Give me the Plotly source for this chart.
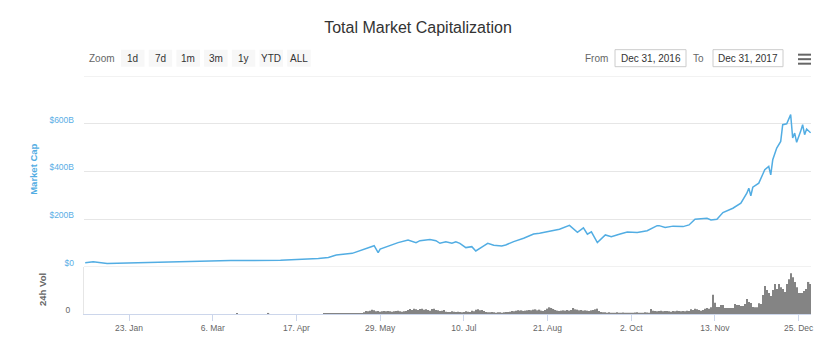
import pandas as pd
import plotly.graph_objects as go

# ---- data -------------------------------------------------------------
TITLE = "Total Market Capitalization"

# total market capitalisation, billions of USD
CAP_DATES = [
    "2017-01-01", "2017-01-05", "2017-01-12", "2017-01-23", "2017-02-18",
    "2017-03-15", "2017-04-09", "2017-04-25", "2017-04-28", "2017-05-03",
    "2017-05-07", "2017-05-15", "2017-05-20", "2017-05-26", "2017-05-28",
    "2017-05-29", "2017-06-07", "2017-06-12", "2017-06-16", "2017-06-18",
    "2017-06-23", "2017-06-26", "2017-06-28", "2017-07-01", "2017-07-04",
    "2017-07-06", "2017-07-08", "2017-07-11", "2017-07-14", "2017-07-16",
    "2017-07-20", "2017-07-22", "2017-07-25", "2017-07-29", "2017-07-31",
    "2017-08-04", "2017-08-09", "2017-08-14", "2017-08-17", "2017-08-22",
    "2017-08-27", "2017-09-01", "2017-09-05", "2017-09-08", "2017-09-10",
    "2017-09-12", "2017-09-15", "2017-09-19", "2017-09-22", "2017-09-26",
    "2017-09-30", "2017-10-05", "2017-10-10", "2017-10-15", "2017-10-16",
    "2017-10-19", "2017-10-23", "2017-10-28", "2017-10-31", "2017-11-03",
    "2017-11-09", "2017-11-11", "2017-11-14", "2017-11-17", "2017-11-22",
    "2017-11-26", "2017-11-29", "2017-11-30", "2017-12-01", "2017-12-02",
    "2017-12-05", "2017-12-08", "2017-12-10", "2017-12-11", "2017-12-12",
    "2017-12-14", "2017-12-16", "2017-12-17", "2017-12-19", "2017-12-21",
    "2017-12-22", "2017-12-23", "2017-12-24", "2017-12-26", "2017-12-27",
    "2017-12-28", "2017-12-29", "2017-12-31",
]
CAP_VALUES = [
    18, 22, 14, 16, 20,
    27, 28, 32, 35, 40,
    50, 57, 71, 89, 60,
    75, 102, 113, 102, 110,
    115, 110, 99, 105, 99,
    105, 99, 81, 85, 67,
    88, 99, 91, 88, 92,
    106, 120, 138, 141, 148,
    158, 174, 145, 164, 137,
    147, 102, 134, 127, 137,
    146, 144, 152, 173, 173,
    165, 171, 169, 176, 200,
    204, 197, 200, 228, 246,
    267, 309, 330, 298, 334,
    351, 407, 421, 386, 449,
    498, 526, 596, 600, 638,
    540, 561, 522, 568, 596,
    554, 578, 562,
]

# 24h volume, billions of USD, one value per day of 2017
VOL_JAN = [0, 0, 0, 0, 0, 0, 0, 0, 0, 0, 0, 0, 0, 0, 0, 0, 0, 0, 0, 0,
           0, 0, 0, 0, 0, 0, 0, 0, 0, 0, 0]
VOL_FEB = [0, 0, 0, 0, 0, 0, 0, 0, 0, 0, 0, 0, 0, 0, 0, 0, 0, 0, 0, 0,
           0, 0, 0, 0, 0, 0, 0, 0]
VOL_MAR = [0, 0, 0, 0, 0, 0, 0, 0, 0, 0, 0, 0, 0, 0, 0, 0, 0, 0.8, 0, 0,
           0, 0, 0, 0, 0, 0, 0, 0, 0, 0, 0]
VOL_APR = [0, 0, 0.8, 0, 0, 0, 0, 0, 0, 0, 0, 0, 0, 0, 0, 0, 0, 0, 0, 0,
           0, 0, 0, 0, 0, 0, 0, 0, 0, 0]
VOL_MAY = [0.6, 0.5, 0.7, 0.6, 0.8, 0.5, 0.6, 0.7, 0.5, 0.8,
           0.6, 0.7, 0.9, 1.0, 1.2, 1.1, 1.4, 1.3, 1.5, 1.6,
           2.5, 4.5, 4.0, 5.0, 6.5, 5.5, 4.0, 4.5, 3.5, 4.0, 4.5]
VOL_JUN = [4.0, 4.5, 4.0, 3.5, 4.0, 4.5, 5.0, 4.0, 3.5, 4.0,
           4.5, 6.0, 7.5, 6.0, 8.0, 7.0, 6.0, 7.5, 8.0, 6.5,
           7.0, 6.0, 5.0, 7.5, 8.0, 6.0, 5.5, 4.5, 5.0, 6.0]
VOL_JUL = [3.5, 3.0, 3.0, 4.0, 3.5, 3.0, 3.5, 3.0, 2.5, 3.0,
           4.0, 3.5, 3.0, 5.0, 4.0, 6.5, 7.0, 5.5, 6.0, 4.5,
           3.0, 2.5, 2.5, 3.0, 2.5, 2.0, 2.5, 2.5, 2.0, 2.5, 3.0]
VOL_AUG = [3.0, 3.5, 4.5, 4.0, 5.0, 5.5, 5.0, 5.5, 4.5, 5.0,
           5.5, 6.0, 5.5, 6.5, 7.0, 5.5, 6.5, 5.0, 4.5, 6.0,
           8.0, 10.0, 9.0, 7.5, 6.0, 5.0, 4.5, 5.0, 5.5, 5.0, 6.0]
VOL_SEP = [5.0, 6.0, 9.0, 7.0, 6.5, 5.5, 6.0, 5.0, 5.5, 5.0,
           4.5, 5.5, 6.0, 7.0, 8.0, 4.5, 3.0, 2.5, 2.5, 2.0,
           2.5, 2.0, 1.8, 2.0, 2.5, 2.0, 1.8, 2.2, 2.0, 1.8]
VOL_OCT = [2.0, 1.8, 2.0, 2.2, 2.5, 2.0, 1.8, 2.0, 2.5, 2.2,
           2.0, 7.5, 5.0, 4.5, 4.0, 4.5, 5.0, 4.0, 4.5, 4.5,
           4.0, 3.5, 4.5, 4.0, 5.0, 4.5, 4.0, 4.5, 4.0, 5.0, 4.5]
VOL_NOV = [7.0, 6.0, 8.0, 7.0, 6.0, 5.0, 6.0, 8.0, 9.0, 8.0,
           10.0, 29.0, 17.0, 10.5, 10.5, 13.5, 13.5, 9.0, 9.0, 9.0,
           9.0, 9.0, 15.0, 13.5, 13.5, 12.0, 12.0, 15.0, 22.5, 18.0]
VOL_DEC = [16.5, 10.5, 10.0, 10.0, 16.0, 15.0, 28.5, 42.0, 36.0, 31.5,
           27.0, 36.0, 45.0, 37.5, 45.0, 40.0, 37.5, 33.0, 45.0, 52.0,
           61.0, 55.0, 48.0, 40.0, 31.5, 31.5, 31.5, 34.5, 37.5, 48.0, 45.0]

X_TICKS = ["2017-01-23", "2017-03-06", "2017-04-17", "2017-05-29",
           "2017-07-10", "2017-08-21", "2017-10-02", "2017-11-13",
           "2017-12-25"]
CAP_TICKS = [0, 200, 400, 600]
CAP_TICK_TEXT = ["$0", "$200B", "$400B", "$600B"]
ZOOM_BUTTONS = ["1d", "7d", "1m", "3m", "1y", "YTD", "ALL"]
DATE_FROM = "Dec 31, 2016"
DATE_TO = "Dec 31, 2017"

VOLUME = (VOL_JAN + VOL_FEB + VOL_MAR + VOL_APR + VOL_MAY + VOL_JUN +
          VOL_JUL + VOL_AUG + VOL_SEP + VOL_OCT + VOL_NOV + VOL_DEC)
VOL_DATES = pd.date_range("2017-01-01", periods=len(VOLUME), freq="D")

# ---- geometry (pixels) ------------------------------------------------
W, H = 836, 346
ML, MR, MT, MB = 84, 25, 76.3, 32
PW, PH = W - ML - MR, H - MT - MB
VOL_FRAC = 47 / PH


def px(x):
    return (x - ML) / PW


def py(y):
    return (H - MB - y) / PH


BLUE = "#52ade3"
FONT = "Liberation Sans, Arial, sans-serif"

fig = go.Figure()
fig.add_trace(go.Scatter(
    x=CAP_DATES, y=CAP_VALUES, mode="lines",
    line=dict(color=BLUE, width=1.5),
    xaxis="x", yaxis="y", hoverinfo="x+y", showlegend=False,
))
fig.add_trace(go.Bar(
    x=VOL_DATES, y=VOLUME,
    marker=dict(color="#848484", line=dict(width=0)),
    xaxis="x", yaxis="y2", showlegend=False,
))

shapes = []
annotations = []

# gridline framing the top of the cap panel and its baseline
for v in (0, 800):
    shapes.append(dict(type="line", xref="paper", yref="y", x0=0, x1=1,
                       y0=v, y1=v, line=dict(color="#e6e6e6", width=1)))

# zoom buttons
annotations.append(dict(text="Zoom", xref="paper", yref="paper",
                        x=px(117), y=py(58.5), xanchor="right",
                        yanchor="middle", showarrow=False,
                        font=dict(family=FONT, size=10, color="#666666")))
for i, label in enumerate(ZOOM_BUTTONS):
    x0 = 121 + i * 27.7
    shapes.append(dict(type="rect", xref="paper", yref="paper",
                       x0=px(x0), x1=px(x0 + 23.5), y0=py(67), y1=py(50),
                       fillcolor="#f7f7f7", line=dict(width=0)))
    annotations.append(dict(text=label, xref="paper", yref="paper",
                            x=px(x0 + 11.75), y=py(58.5), xanchor="center",
                            yanchor="middle", showarrow=False,
                            font=dict(family=FONT, size=10, color="#333333")))

# date range inputs
annotations.append(dict(text="From", xref="paper", yref="paper",
                        x=px(610), y=py(58.5), xanchor="right",
                        yanchor="middle", showarrow=False,
                        font=dict(family=FONT, size=10, color="#666666")))
annotations.append(dict(text="To", xref="paper", yref="paper",
                        x=px(706), y=py(58.5), xanchor="right",
                        yanchor="middle", showarrow=False,
                        font=dict(family=FONT, size=10, color="#666666")))
for (x0, x1), txt in zip([(615, 686), (713, 783)], [DATE_FROM, DATE_TO]):
    shapes.append(dict(type="rect", xref="paper", yref="paper",
                       x0=px(x0), x1=px(x1), y0=py(67), y1=py(50),
                       fillcolor="white",
                       line=dict(color="#cccccc", width=1)))
    annotations.append(dict(text=txt, xref="paper", yref="paper",
                            x=px((x0 + x1) / 2), y=py(58.5),
                            xanchor="center", yanchor="middle",
                            showarrow=False,
                            font=dict(family=FONT, size=10, color="#333333")))

# export menu icon
for yy in (55, 59.5, 64):
    shapes.append(dict(type="line", xref="paper", yref="paper",
                       x0=px(798), x1=px(811), y0=py(yy), y1=py(yy),
                       line=dict(color="#666666", width=2)))

# axis titles
annotations.append(dict(text="<b>Market Cap</b>", xref="paper", yref="paper",
                        x=px(34), y=py(170), textangle=-90,
                        xanchor="center", yanchor="middle", showarrow=False,
                        font=dict(family=FONT, size=9.5, color=BLUE)))
annotations.append(dict(text="<b>24h Vol</b>", xref="paper", yref="paper",
                        x=px(43), y=py(290), textangle=-90,
                        xanchor="center", yanchor="middle", showarrow=False,
                        font=dict(family=FONT, size=9.5, color="#666666")))

fig.update_layout(
    width=W, height=H,
    margin=dict(l=ML, r=MR, t=MT, b=MB),
    paper_bgcolor="white", plot_bgcolor="white",
    title=dict(text=TITLE, x=0.5, xref="container", xanchor="center",
               y=1 - 27 / H, yref="container", yanchor="middle",
               font=dict(family=FONT, size=16, color="#333333")),
    bargap=0.35,
    shapes=shapes,
    annotations=annotations,
    xaxis=dict(
        type="date", domain=[0, 1], anchor="y2",
        range=["2016-12-31 09:36", "2017-12-31 04:48"],
        tickvals=X_TICKS, tickformat="%-d. %b",
        showgrid=False, zeroline=False,
        showline=True, linecolor="#ccd6eb", linewidth=1,
        ticks="outside", ticklen=6, tickcolor="#ccd6eb",
        tickfont=dict(family=FONT, size=8.5, color="#666666"),
    ),
    yaxis=dict(
        domain=[VOL_FRAC, 1], range=[0, 800],
        tickvals=CAP_TICKS, ticktext=CAP_TICK_TEXT,
        showgrid=True, gridcolor="#e6e6e6", zeroline=False, showline=False,
        ticks="", ticklabelshift=-4, ticklabelstandoff=9,
        tickfont=dict(family=FONT, size=8.5, color="#5aaee6"),
    ),
    yaxis2=dict(
        domain=[0, VOL_FRAC], range=[0, 70.5],
        tickvals=[0], ticktext=["0"],
        showgrid=False, zeroline=False,
        showline=True, linecolor="#e6e6e6", linewidth=1,
        ticks="", ticklabelshift=-4, ticklabelstandoff=11,
        tickfont=dict(family=FONT, size=8.5, color="#666666"),
    ),
)

fig.write_html("out.html")
